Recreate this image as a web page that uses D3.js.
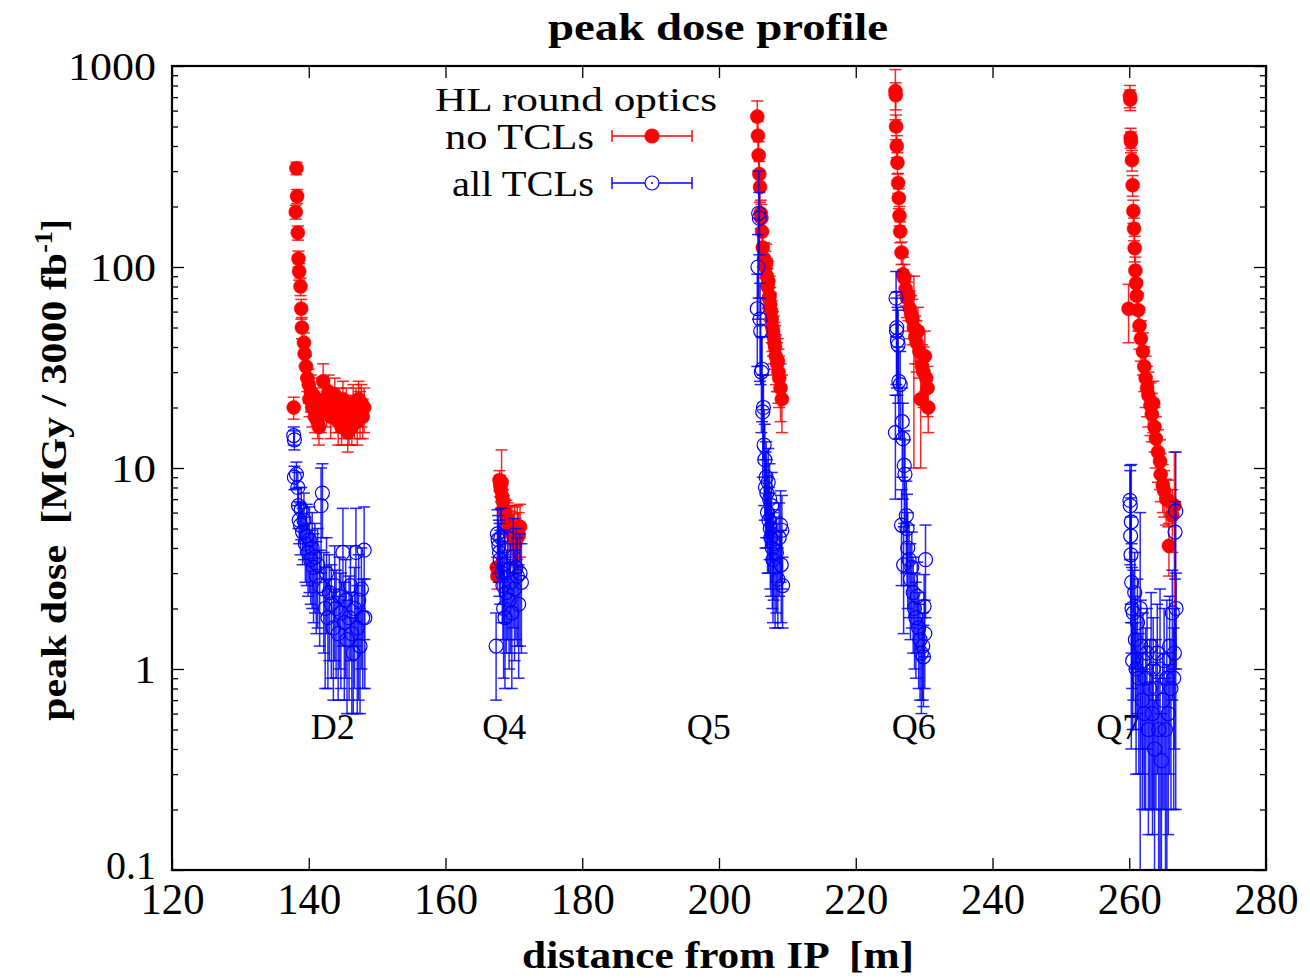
<!DOCTYPE html>
<html>
<head>
<meta charset="utf-8">
<script src="https://cdn.jsdelivr.net/npm/d3@7"></script>
<style>
  html, body { margin: 0; padding: 0; background: #fff; }
  svg { display: block; }
  text { font-family: "Liberation Serif", "DejaVu Serif", serif; fill: #000; white-space: pre; }
</style>
</head>
<body>
<div id="chart"></div>
<script>
// Peak dose along the magnets downstream of the IP (HL round optics)

// ---- no TCLs : position [m], peak dose [MGy/3000 fb^-1], uncertainty ----
const noTclPos = [
  // D2
  137.8, 138.2, 138.3, 138.1, 138.4, 138.5, 138.6, 138.8, 138.9, 139.0, 139.3, 139.4, 139.6, 139.8,
  140.0, 140.1, 140.3, 140.5, 140.7, 140.9, 141.1, 141.3, 141.5, 141.8, 142.1, 142.3, 142.6, 142.9,
  143.2, 143.5, 143.8, 144.0, 144.3, 144.5, 144.8, 145.0, 145.2, 145.5, 145.7, 145.9, 146.1, 146.3,
  146.5, 146.7, 146.9, 147.1, 147.3, 147.5, 147.7, 147.9, 148.1,
  // Q4
  167.5, 167.6, 167.9, 168.0, 168.1, 168.2, 168.3, 168.4, 168.5, 168.7, 168.9, 169.1, 169.3, 169.5,
  169.7, 169.9, 170.1, 170.3, 170.5, 170.7, 170.9,
  // Q5
  205.6, 205.7, 205.8, 205.9, 206.0, 206.1, 206.2, 206.3, 206.4, 206.6, 206.8, 206.9, 207.0, 207.1,
  207.2, 207.3, 207.4, 207.5, 207.6, 207.7, 207.8, 207.9, 208.0, 208.1, 208.2, 208.3, 208.5, 208.6,
  208.7, 208.8, 209.0, 209.2,
  // Q6
  225.8, 225.85, 225.9, 226.0, 226.1, 226.2, 226.3, 226.4, 226.5, 226.7, 226.9, 227.1, 227.3, 227.5,
  227.7, 227.9, 228.1, 228.3, 228.5, 228.7, 228.9, 229.1, 229.3, 229.5, 229.7, 229.9, 230.1, 230.3,
  230.5, 230.6,
  // Q7
  260.1, 260.15, 260.2, 260.25, 260.4, 260.5, 260.6, 260.7, 260.8, 260.9, 261.0, 261.1, 259.9, 261.3,
  261.5, 261.7, 262.0, 262.2, 262.4, 262.6, 262.8, 263.1, 263.3, 263.5, 263.7, 263.9, 264.2, 264.5,
  264.6, 264.9, 265.1, 265.4, 265.7, 265.8, 266.3, 266.6
];
const noTclDose = [
  20, 310, 225, 188, 148, 110, 95, 80, 62, 50, 42, 37, 32, 28,
  26, 22, 24, 20, 23, 18, 21, 17, 16, 19, 27, 22, 20, 24,
  18, 21, 23, 19, 17, 20, 16, 22, 18, 20, 15, 17, 19, 16,
  21, 18, 20, 17, 22, 19, 21, 18, 20,
  3.2, 2.9, 8.7, 8.2, 7.8, 8.5, 7.2, 6.8, 6.3, 6.0, 5.7, 5.5, 5.2, 4.8,
  5.1, 4.6, 4.9, 4.3, 5.0, 4.6, 5.1,
  560, 450, 360, 290, 250, 185, 175, 150, 125, 110, 100, 105, 90, 80,
  85, 70, 72, 65, 60, 55, 50, 48, 45, 42, 40, 36, 33, 34,
  30, 28, 25, 22,
  750, 715, 500, 400, 330, 262, 220, 180, 150, 118, 92, 88, 78, 70,
  72, 62, 58, 55, 50, 45, 42, 48, 38, 22, 32, 30, 36, 28,
  25, 20,
  710, 680, 440, 420, 340, 255, 190, 155, 124, 96, 83, 72, 62, 61,
  51, 44, 38, 32, 28, 25, 23, 20.5, 18.5, 21, 16, 14, 12, 10.8,
  9.3, 8.2, 7.7, 7.0, 6.9, 4.1, 5.8, 6.5
];
const noTclErr = [
  2.5, 22, 18, 15, 12, 10, 9, 8, 7, 6, 5, 5, 4, 4,
  5, 4, 5, 4, 5, 3, 4, 3, 3, 4, 6, 4, 4, 5,
  4, 4, 5, 4, 4, 5, 3, 5, 4, 5, 3, 4, 4, 3,
  5, 4, 5, 4, 5, 5, 5, 4, 5,
  0.4, 0.4, 1.0, 1.0, 1.0, 3.8, 1.0, 1.0, 1.0, 1.0, 1.2, 1.2, 1.3, 1.3,
  1.4, 1.3, 1.5, 1.3, 1.5, 1.4, 1.5,
  110, 80, 60, 45, 40, 30, 30, 28, 25, 22, 20, 25, 20, 18,
  22, 15, 18, 14, 14, 13, 12, 12, 12, 11, 11, 10, 9, 10,
  9, 8, 8, 7,
  210, 110, 70, 50, 40, 30, 25, 20, 18, 15, 20, 15, 14, 14,
  18, 14, 14, 14, 40, 12, 12, 15, 10, 12, 9, 10, 12, 8,
  7, 5,
  90, 80, 50, 50, 40, 30, 25, 20, 18, 16, 14, 14, 20, 13,
  12, 10, 9, 8, 8, 7, 7, 6, 5, 6, 4, 4, 3.5, 3,
  2.5, 2.2, 2.0, 1.8, 1.8, 1.2, 2.0, 5.5
];

// ---- all TCLs ----
const allTclPos = [
  // D2
  137.8, 137.9, 137.9, 138.2, 138.4, 138.5, 138.6, 138.8, 138.9, 139.1, 139.3, 139.5, 139.7, 139.9,
  140.1, 140.3, 140.5, 140.7, 140.9, 141.1, 141.3, 141.6, 141.8, 142.0, 142.2, 142.4, 142.6, 142.8,
  143.0, 143.3, 143.6, 143.8, 144.0, 144.3, 144.5, 144.7, 145.0, 145.2, 145.4, 145.6, 145.9, 146.1,
  146.3, 146.5, 146.7, 146.9, 147.1, 147.3, 147.5, 147.7, 147.9, 148.1, 148.2,
  // Q4
  167.4, 167.6, 167.7, 167.8, 167.9, 168.0, 168.1, 168.3, 168.4, 168.5, 168.6, 168.7, 168.9, 169.1,
  169.3, 169.5, 169.7, 169.9, 170.1, 170.3, 170.5, 170.7, 170.9, 171.1,
  // Q5
  205.6, 205.7, 205.8, 205.9, 206.0, 206.1, 206.2, 206.3, 206.4, 206.5, 206.6, 206.7, 206.8, 206.9,
  207.0, 207.1, 207.2, 207.3, 207.4, 207.5, 207.6, 207.7, 207.8, 207.9, 208.0, 208.2, 208.4, 208.6,
  208.8, 209.0, 209.1, 209.2, 209.3,
  // Q6
  225.9, 225.95, 226.0, 226.1, 226.2, 225.8, 226.3, 226.5, 226.8, 226.9, 227.1, 227.2, 226.7, 227.4,
  227.5, 227.0, 227.6, 227.8, 228.0, 228.2, 228.4, 228.6, 228.8, 229.0, 229.2, 229.4, 229.6, 229.8,
  230.0, 230.2, 229.9, 230.1,
  // Q7
  260.1, 260.15, 260.3, 260.2, 260.25, 260.35, 260.4, 260.5, 260.6, 260.8, 260.9, 261.0, 261.2, 261.4,
  261.6, 261.7, 261.9, 262.0, 262.2, 262.4, 262.6, 262.8, 263.0, 263.2, 263.4, 263.5, 263.7, 263.9,
  264.1, 264.3, 264.5, 264.7, 264.9, 265.1, 265.3, 265.5, 265.7, 265.9, 266.1, 266.3, 266.5, 266.6,
  266.7, 266.8, 266.85
];
const allTclDose = [
  14.5, 13.8, 9.0, 9.3, 8.0, 6.5, 5.5, 5.2, 6.2, 4.8, 5.5, 4.2, 4.6, 3.8,
  4.4, 3.5, 4.0, 3.2, 3.6, 2.9, 3.3, 2.6, 6.5, 7.5, 2.5, 2.0, 3.0, 1.8,
  2.4, 2.1, 1.6, 2.6, 2.0, 1.5, 2.3, 1.9, 3.8, 1.7, 2.2, 1.4, 1.8, 2.6,
  1.5, 1.2, 2.0, 3.8, 1.6, 2.2, 1.3, 2.5, 1.8, 3.9, 1.8,
  1.3, 4.7, 4.4, 4.1, 3.8, 3.5, 4.5, 3.0, 2.6, 2.0, 3.3, 1.8, 2.4, 3.1,
  2.2, 2.7, 1.9, 3.6, 2.5, 3.2, 2.9, 2.1, 3.0, 2.7,
  62, 100, 185, 175, 55, 48, 30, 31, 19, 20, 13, 11, 8, 9,
  7.5, 6, 8.5, 5.5, 7.0, 5, 4.5, 6.5, 4, 3.5, 4.2, 3.2, 3.8, 2.8,
  4.5, 5.2, 3.3, 4.9, 2.6,
  70, 48, 50, 43, 41, 15, 27, 26, 17, 14, 10.3, 9.3, 5.2, 5.8,
  5.0, 3.3, 4.0, 3.5, 2.8, 3.2, 2.4, 2.0, 1.8, 2.3, 1.6, 1.4, 1.2, 1.3,
  2.05, 3.5, 1.15, 1.5,
  6.9, 6.5, 5.4, 4.6, 3.7, 2.7, 2.0, 1.1, 1.9, 2.4, 1.4, 1.0, 1.7, 0.9,
  2.0, 1.3, 0.7, 1.1, 0.6, 0.9, 1.2, 0.5, 0.8, 1.3, 0.6, 1.0, 0.4, 0.8,
  1.2, 0.5, 1.0, 0.35, 0.7, 1.1, 0.5, 0.9, 0.6, 1.3, 0.8, 1.9, 0.9, 1.2,
  4.8, 6.1, 2.0
];
const allTclErr = [
  1.5, 1.5, 1.2, 1.4, 1.5, 1.5, 1.3, 1.5, 1.8, 1.5, 2.0, 1.5, 2.0, 1.5,
  2.0, 1.4, 2.0, 1.5, 1.7, 1.4, 1.7, 1.3, 3.5, 3.0, 1.3, 1.2, 1.5, 1.0,
  1.3, 1.2, 0.9, 1.5, 1.1, 0.8, 1.3, 1.1, 2.5, 1.0, 1.3, 0.8, 1.1, 1.5,
  0.9, 0.6, 1.2, 2.5, 1.0, 1.5, 0.7, 1.5, 1.0, 2.5, 1.0,
  0.6, 1.5, 1.4, 1.4, 1.5, 1.4, 1.8, 1.3, 1.2, 1.1, 1.6, 1.0, 1.2, 1.7,
  1.2, 1.5, 1.1, 2.0, 1.4, 1.8, 1.6, 1.2, 1.7, 1.5,
  30, 45, 115, 60, 28, 22, 15, 14, 10, 9, 6.5, 5.5, 4, 4.5,
  3.5, 3, 4, 2.5, 3.5, 2.5, 2.2, 3, 2, 1.8, 2, 1.6, 1.9, 1.2,
  2.2, 2.5, 1.6, 2.4, 1.0,
  25, 22, 25, 20, 20, 8, 13, 12, 8, 7, 5, 4.5, 2.6, 2.8,
  2.4, 1.8, 2.0, 1.7, 1.4, 1.6, 1.2, 1.0, 0.9, 1.1, 0.8, 0.7, 0.6, 0.6,
  0.9, 1.7, 0.5, 0.7,
  3.4, 3.2, 5.0, 2.5, 2.0, 1.5, 1.2, 0.6, 1.2, 1.4, 0.9, 0.7, 1.1, 0.6,
  4.0, 0.9, 0.5, 0.8, 0.4, 0.7, 0.8, 0.35, 0.6, 1.1, 0.45, 0.8, 0.3, 0.6,
  0.9, 0.4, 1.5, 0.25, 0.5, 0.9, 0.4, 1.3, 0.45, 1.0, 0.6, 1.2, 0.7, 0.8,
  2.0, 5.9, 1.0
];

// magnet names and where their labels sit
const magnetNames = ["D2", "Q4", "Q5", "Q6", "Q7"];
const magnetLabelPos = [143.5, 168.6, 198.5, 228.5, 258.4];
const magnetLabelDose = 0.45;

const xTicks = [120, 140, 160, 180, 200, 220, 240, 260, 280];
const yTicks = [0.1, 1, 10, 100, 1000];
const yTickLabels = ["0.1", "1", "10", "100", "1000"];

const seriesNames = ["no TCLs", "all TCLs"];
const legendTitle = "HL round optics";

// ---- layout ----
const W = 1310, H = 978;
const M = { left: 172, right: 44, top: 66, bottom: 108 };
const pw = W - M.left - M.right, ph = H - M.top - M.bottom;

const RED = "#ff0000", BLUE = "#0000ff";
const R = 7;

const svg = d3.select("#chart").append("svg").attr("width", W).attr("height", H);

const x = d3.scaleLinear().domain([120, 280]).range([M.left, M.left + pw]);
const y = d3.scaleLog().domain([0.1, 1000]).range([M.top + ph, M.top]);

svg.append("defs").append("clipPath").attr("id", "plotClip")
  .append("rect").attr("x", M.left).attr("y", M.top).attr("width", pw).attr("height", ph);

// title
svg.append("text").attr("x", 718).attr("y", 40).attr("text-anchor", "middle")
  .attr("font-size", 38).attr("font-weight", "bold")
  .attr("textLength", 340).attr("lengthAdjust", "spacingAndGlyphs").text("peak dose profile");

// axes: major ticks inside, mirrored on opposite side
const tickLen = 12, minorLen = 6;
const axG = svg.append("g");

const bottomAx = d3.axisBottom(x).tickValues(xTicks).tickSize(-tickLen).tickFormat(d3.format("d")).tickPadding(22);
const gB = axG.append("g").attr("transform", `translate(0,${M.top + ph})`).call(bottomAx);
const topAx = d3.axisTop(x).tickValues(xTicks).tickSize(-tickLen).tickFormat("");
axG.append("g").attr("transform", `translate(0,${M.top})`).call(topAx);

const minors = [];
for (let e = -1; e < 3; e++) for (let k = 2; k <= 9; k++) minors.push(k * Math.pow(10, e));

const leftAx = d3.axisLeft(y).tickValues(yTicks).tickSize(-tickLen).tickFormat((d, i) => yTickLabels[i]).tickPadding(16);
const gL = axG.append("g").attr("transform", `translate(${M.left},0)`).call(leftAx);
const rightAx = d3.axisRight(y).tickValues(yTicks).tickSize(-tickLen).tickFormat("");
axG.append("g").attr("transform", `translate(${M.left + pw},0)`).call(rightAx);
axG.append("g").attr("transform", `translate(${M.left},0)`)
  .call(d3.axisLeft(y).tickValues(minors).tickSize(-minorLen).tickFormat(""));
axG.append("g").attr("transform", `translate(${M.left + pw},0)`)
  .call(d3.axisRight(y).tickValues(minors).tickSize(-minorLen).tickFormat(""));

axG.selectAll(".domain").remove();
axG.selectAll(".tick line").attr("stroke", "#000").attr("stroke-width", 1.3);
gB.selectAll(".tick text").attr("font-size", 44).attr("font-family", "Liberation Serif")
  .attr("dy", "0.5em").attr("textLength", 64).attr("lengthAdjust", "spacingAndGlyphs");
gL.selectAll(".tick text").attr("font-size", 40).attr("font-family", "Liberation Serif")
  .attr("dy", d => (d === 0.1 ? "0.2em" : "0.33em"))
  .attr("textLength", d => ({ 0.1: 50, 1: 22, 10: 45, 100: 66, 1000: 88 })[d])
  .attr("lengthAdjust", "spacingAndGlyphs");

// magnet labels
svg.append("g").selectAll("text").data(magnetNames).join("text")
  .attr("x", (d, i) => x(magnetLabelPos[i])).attr("y", y(magnetLabelDose))
  .attr("text-anchor", "middle").attr("font-size", 36).text(d => d);

// data marks
function drawSeries(pos, dose, err, color, filled) {
  const data = pos.map((p, i) => ({ p, v: dose[i], e: err[i] }));
  const g = svg.append("g").attr("clip-path", "url(#plotClip)");
  const lo = d => (d.v - d.e > 0 ? y(d.v - d.e) : M.top + ph + 5);
  const bars = g.append("g").attr("stroke", color).attr("stroke-width", 1.5).attr("stroke-opacity", 0.85);
  bars.selectAll("line.v").data(data).join("line").attr("class", "v")
    .attr("x1", d => x(d.p)).attr("x2", d => x(d.p))
    .attr("y1", d => y(d.v + d.e)).attr("y2", lo);
  bars.selectAll("line.cu").data(data).join("line").attr("class", "cu")
    .attr("x1", d => x(d.p) - 6).attr("x2", d => x(d.p) + 6)
    .attr("y1", d => y(d.v + d.e)).attr("y2", d => y(d.v + d.e));
  bars.selectAll("line.cl").data(data.filter(d => d.v - d.e > 0)).join("line").attr("class", "cl")
    .attr("x1", d => x(d.p) - 6).attr("x2", d => x(d.p) + 6)
    .attr("y1", d => y(d.v - d.e)).attr("y2", d => y(d.v - d.e));
  g.append("g").selectAll("circle").data(data).join("circle")
    .attr("cx", d => x(d.p)).attr("cy", d => y(d.v)).attr("r", R)
    .attr("fill", filled ? color : "none").attr("stroke", color)
    .attr("stroke-width", filled ? 0.5 : 1.2);
}
drawSeries(noTclPos, noTclDose, noTclErr, RED, true);
drawSeries(allTclPos, allTclDose, allTclErr, BLUE, false);

// frame
svg.append("rect").attr("x", M.left).attr("y", M.top).attr("width", pw).attr("height", ph)
  .attr("fill", "none").attr("stroke", "#000").attr("stroke-width", 2.2);

// legend
const lg = svg.append("g");
lg.append("text").attr("x", 717).attr("y", 111).attr("text-anchor", "end").attr("font-size", 34)
  .attr("textLength", 282).attr("lengthAdjust", "spacingAndGlyphs").text(legendTitle);
const legRows = [{ name: seriesNames[0], color: RED, filled: true, yy: 136, len: 149 },
                 { name: seriesNames[1], color: BLUE, filled: false, yy: 183, len: 142 }];
legRows.forEach(r => {
  lg.append("text").attr("x", 594).attr("y", r.yy + 13).attr("text-anchor", "end").attr("font-size", 35)
    .attr("textLength", r.len).attr("lengthAdjust", "spacingAndGlyphs").text(r.name);
  const s = lg.append("g").attr("stroke", r.color).attr("stroke-width", 1.4);
  s.append("line").attr("x1", 612).attr("x2", 692).attr("y1", r.yy).attr("y2", r.yy);
  s.append("line").attr("x1", 612).attr("x2", 612).attr("y1", r.yy - 6).attr("y2", r.yy + 6);
  s.append("line").attr("x1", 692).attr("x2", 692).attr("y1", r.yy - 6).attr("y2", r.yy + 6);
  lg.append("circle").attr("cx", 652).attr("cy", r.yy).attr("r", R)
    .attr("fill", r.filled ? r.color : "#fff").attr("stroke", r.color).attr("stroke-width", 1.2);
  if (!r.filled) lg.append("circle").attr("cx", 652).attr("cy", r.yy).attr("r", 1).attr("fill", r.color);
});

// axis titles
svg.append("text").attr("x", 718).attr("y", 968).attr("text-anchor", "middle")
  .attr("font-size", 38).attr("font-weight", "bold")
  .attr("textLength", 392).attr("lengthAdjust", "spacingAndGlyphs").text("distance from IP  [m]");

const yt = svg.append("text").attr("transform", `translate(66,470) rotate(-90)`)
  .attr("text-anchor", "middle").attr("font-size", 36).attr("font-weight", "bold");
yt.append("tspan").attr("textLength", 468).attr("lengthAdjust", "spacingAndGlyphs").text("peak dose  [MGy / 3000 fb");
yt.append("tspan").attr("font-size", 26).attr("dy", -14).text("-1");
yt.append("tspan").attr("dy", 14).text("]");
</script>
</body>
</html>
